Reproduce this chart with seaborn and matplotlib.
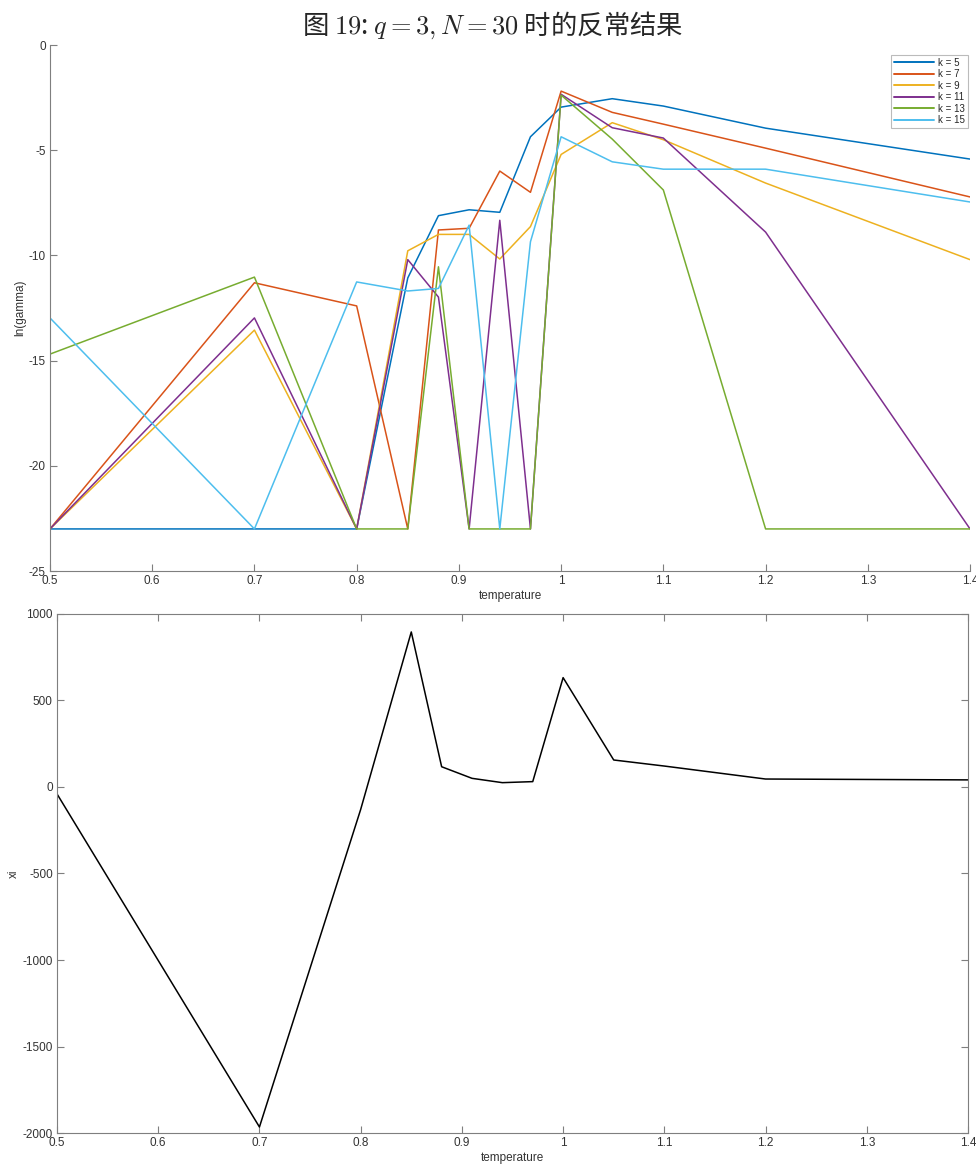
import numpy as np
import pandas as pd
import matplotlib
matplotlib.use("Agg")
import matplotlib.pyplot as plt
import matplotlib.ticker as mticker
import seaborn as sns

temperature = [0.5, 0.7, 0.8, 0.85, 0.88, 0.91, 0.94, 0.97, 1.0, 1.05, 1.1, 1.2, 1.4]
k_labels = ["k = 5", "k = 7", "k = 9", "k = 11", "k = 13", "k = 15"]
ln_gamma_k5 = [-23, -23, -23, -11.07, -8.11, -7.83, -7.95, -4.36, -2.95, -2.55, -2.9, -3.95, -5.42]
ln_gamma_k7 = [-23, -11.3, -12.4, -23, -8.79, -8.71, -5.99, -7.0, -2.19, -3.2, -3.76, -4.9, -7.22]
ln_gamma_k9 = [-23, -13.55, -23, -9.78, -9.0, -9.0, -10.17, -8.63, -5.2, -3.69, -4.5, -6.56, -10.2]
ln_gamma_k11 = [-23, -12.97, -23, -10.2, -11.98, -23, -8.33, -23, -2.34, -3.93, -4.42, -8.89, -23]
ln_gamma_k13 = [-14.69, -11.03, -23, -23, -10.54, -23, -23, -23, -2.38, -4.47, -6.89, -23, -23]
ln_gamma_k15 = [-12.97, -23, -11.26, -11.69, -11.57, -8.56, -23, -9.35, -4.36, -5.55, -5.9, -5.9, -7.46]
xi = [-40, -1965, -130, 896, 117, 50, 25, 31, 632, 156, 121, 46, 41]

colors = ["#0072BD", "#D95319", "#EDB120", "#7E2F8E", "#77AC30", "#4DBEEE"]

series = [ln_gamma_k5, ln_gamma_k7, ln_gamma_k9, ln_gamma_k11, ln_gamma_k13, ln_gamma_k15]
rows = []
for lab, vals in zip(k_labels, series):
    for t, v in zip(temperature, vals):
        rows.append({"temperature": t, "ln(gamma)": v, "k": lab})
df_top = pd.DataFrame(rows)
df_bot = pd.DataFrame({"temperature": temperature, "xi": xi})

sns.set_style("white")
plt.rcParams["font.family"] = ["Liberation Sans", "DejaVu Sans"]
plt.rcParams["mathtext.fontset"] = "cm"

fig = plt.figure(figsize=(9.76, 11.67), dpi=100)
ax1 = fig.add_axes([0.0512, 0.5107, 0.9427, 0.4507])
ax2 = fig.add_axes([0.0584, 0.0291, 0.9334, 0.4448])

axis_col = "#7f7f7f"
tick_col = "#333333"

sns.lineplot(data=df_top, x="temperature", y="ln(gamma)", hue="k",
             palette=colors, ax=ax1, linewidth=1.1, sort=False, estimator=None)
ax1.set_xlim(0.5, 1.4)
ax1.set_ylim(-25, 0)
ax1.set_yticks([0, -5, -10, -15, -20, -25])
ax1.set_xticks(np.round(np.arange(0.5, 1.41, 0.1), 1))
for s in ["top", "right"]:
    ax1.spines[s].set_visible(False)

sns.lineplot(data=df_bot, x="temperature", y="xi", color="black",
             ax=ax2, linewidth=1.1, sort=False, estimator=None)
ax2.set_xlim(0.5, 1.4)
ax2.set_ylim(-2000, 1000)
ax2.set_yticks([1000, 500, 0, -500, -1000, -1500, -2000])
ax2.set_xticks(np.round(np.arange(0.5, 1.41, 0.1), 1))

for ax, box in [(ax1, False), (ax2, True)]:
    for s in ax.spines.values():
        s.set_color(axis_col)
        s.set_linewidth(0.8)
    ax.xaxis.set_major_formatter(mticker.FormatStrFormatter("%g"))
    ax.yaxis.set_major_formatter(mticker.FormatStrFormatter("%g"))
    ax.tick_params(axis="both", direction="in", length=5, width=0.8,
                   color=axis_col, labelsize=8.5, labelcolor=tick_col,
                   top=box, right=box, bottom=True, left=True, pad=3)
    ax.set_xlabel("temperature", fontsize=8.5, color=tick_col, labelpad=2)

ax1.set_ylabel("ln(gamma)", fontsize=8.5, color=tick_col)
ax1.yaxis.set_label_coords(-0.026, 0.5)
ax2.set_ylabel("xi", fontsize=8.5, color=tick_col)
ax2.yaxis.set_label_coords(-0.041, 0.5)

leg = ax1.legend(loc="upper right", bbox_to_anchor=(1.0, 0.985), fontsize=7,
                 frameon=True, fancybox=False, handlelength=4.2,
                 borderpad=0.3, labelspacing=0.15, handletextpad=0.4,
                 borderaxespad=0.2)
leg.get_frame().set_edgecolor("#aaaaaa")
leg.get_frame().set_linewidth(0.8)
for line in leg.get_lines():
    line.set_linewidth(1.4)

fig.text(0.505, 0.978, "图 $\\mathrm{19}$: $q = 3, N = 30$ 时的反常结果", ha="center", va="center",
         fontsize=19, family=["Noto Sans CJK SC", "DejaVu Sans"])

fig.savefig("out.png", dpi=100)
